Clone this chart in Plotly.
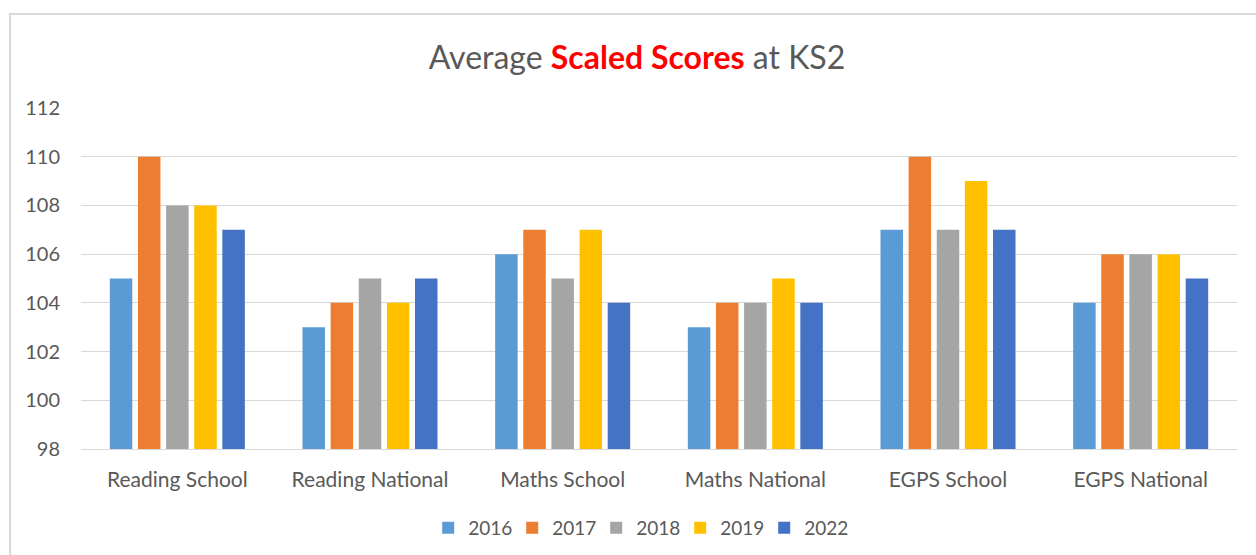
import plotly.graph_objects as go

categories = ["Reading School", "Reading National", "Maths School", "Maths National", "EGPS School", "EGPS National"]
years = ["2016", "2017", "2018", "2019", "2022"]
v2016 = [105, 103, 106, 103, 107, 104]
v2017 = [110, 104, 107, 104, 110, 106]
v2018 = [108, 105, 105, 104, 107, 106]
v2019 = [108, 104, 107, 105, 109, 106]
v2022 = [107, 105, 104, 104, 107, 105]
series = [v2016, v2017, v2018, v2019, v2022]
colors = ["#5B9BD5", "#ED7D31", "#A5A5A5", "#FFC000", "#4472C4"]

FONT = "Lato, Open Sans, sans-serif"

fig = go.Figure()
for name, vals, col in zip(years, series, colors):
    fig.add_trace(go.Bar(x=categories, y=vals, name=name, marker=dict(color=col, line=dict(width=0))))

fig.update_layout(
    width=1256, height=555,
    margin=dict(l=81, r=19, t=108, b=106, autoexpand=False),
    paper_bgcolor="white", plot_bgcolor="white",
    barmode="group", bargap=0.27, bargroupgap=0.2,
    title=dict(
        text="Average <b><span style='color:#FF0000'>Scaled Scores</span></b> at KS2",
        x=637 / 1256, xref="container", xanchor="center",
        y=1 - 58 / 555, yref="container", yanchor="middle",
        font=dict(family=FONT, size=32, color="#595959"),
    ),
    font=dict(family=FONT, color="#595959", size=20),
    legend=dict(
        orientation="h", x=0.482, xanchor="center",
        y=1 - 528 / 555, yref="container", yanchor="middle",
        font=dict(size=19, color="#595959"), itemwidth=30, traceorder="normal",
        entrywidth=39, entrywidthmode="pixels",
    ),
    showlegend=True,
)
fig.update_yaxes(range=[98, 112], dtick=2, tick0=98, showgrid=True, gridcolor="#D9D9D9", gridwidth=1,
                 zeroline=False, showline=False, ticks="", tickfont=dict(size=20, color="#595959"),
                 ticklabelstandoff=20, automargin=False)
fig.update_xaxes(showline=True, linecolor="#D9D9D9", linewidth=1, ticks="", showgrid=False,
                 tickfont=dict(size=21, color="#595959"), ticklabelstandoff=12, automargin=False)

fig.add_shape(type="rect", xref="paper", yref="paper",
              x0=(10 - 81) / 1156, x1=1.2, y0=-0.6, y1=(449 - 14) / 341,
              line=dict(color="#D9D9D9", width=2), fillcolor="rgba(0,0,0,0)", layer="below")

fig.write_html("out.html", config={"displayModeBar": False},
               post_script="document.body.style.margin='0';document.body.style.overflow='hidden';")
